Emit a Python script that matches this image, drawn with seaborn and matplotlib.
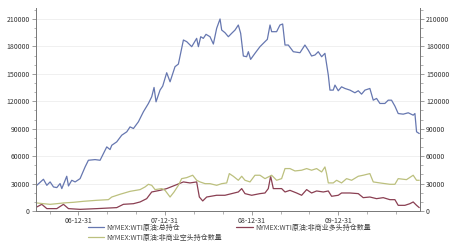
import numpy as np
import pandas as pd
import matplotlib
matplotlib.use("Agg")
import matplotlib.pyplot as plt
import seaborn as sns
from matplotlib.ticker import MultipleLocator

# ---- data (decimal years, contracts) ----
total_t = [2006.519, 2006.596, 2006.635, 2006.673, 2006.712, 2006.750, 2006.788, 2006.808,
           2006.865, 2006.885, 2006.923, 2006.962, 2007.019, 2007.077, 2007.115, 2007.192,
           2007.250, 2007.327, 2007.365, 2007.385, 2007.442, 2007.500, 2007.558, 2007.596,
           2007.635, 2007.692, 2007.750, 2007.808, 2007.846, 2007.873, 2007.896, 2007.942,
           2007.973, 2008.019, 2008.058, 2008.115, 2008.154, 2008.212, 2008.250, 2008.308,
           2008.365, 2008.385, 2008.412, 2008.442, 2008.473, 2008.519, 2008.558, 2008.596,
           2008.635, 2008.654, 2008.692, 2008.731, 2008.769, 2008.808, 2008.846, 2008.873,
           2008.904, 2008.942, 2008.962, 2008.988, 2009.038, 2009.096, 2009.154, 2009.181,
           2009.212, 2009.231, 2009.288, 2009.327, 2009.358, 2009.385, 2009.423, 2009.481,
           2009.558, 2009.615, 2009.654, 2009.692, 2009.731, 2009.769, 2009.808, 2009.846,
           2009.885, 2009.904, 2009.942, 2009.962, 2010.000, 2010.038, 2010.077, 2010.135,
           2010.192, 2010.231, 2010.269, 2010.308, 2010.365, 2010.404, 2010.442, 2010.481,
           2010.538, 2010.577, 2010.615, 2010.654, 2010.692, 2010.750, 2010.808, 2010.865,
           2010.885, 2010.904, 2010.935]
total_v = [28100, 34700, 28100, 31800, 26300, 25600, 30000, 24500,
           38000, 27400, 33600, 31800, 35400, 48200, 55500, 56200,
           55500, 70100, 67200, 71900, 75600, 82900, 86600, 92000,
           90200, 97500, 108500, 117600, 124900, 135100, 119400, 132200,
           136600, 151200, 141300, 157800, 160700, 187000, 185200, 179700,
           188800, 179700, 190600, 188800, 193200, 190600, 182600, 199800,
           210000, 197900, 195000, 190600, 194300, 197900, 203400, 194300,
           169500, 168700, 174200, 165800, 172400, 179700, 185200, 187700,
           203400, 196100, 196100, 203400, 204500, 181500, 181500, 174200,
           173100, 181500, 175900, 169500, 170600, 174200, 168700, 172400,
           148600, 132200, 132200, 137700, 131500, 135800, 134000, 132200,
           129300, 131500, 127800, 132200, 134000, 121200, 123100, 117600,
           117600, 121200, 121200, 114700, 106600, 105900, 107400, 104800,
           106600, 86600, 84700]

long_t = [2006.519, 2006.577, 2006.635, 2006.750, 2006.827, 2006.885, 2007.019, 2007.212,
          2007.442, 2007.519, 2007.635, 2007.712, 2007.788, 2007.846, 2007.942, 2008.019,
          2008.115, 2008.212, 2008.288, 2008.365, 2008.396, 2008.435, 2008.481, 2008.596,
          2008.692, 2008.769, 2008.846, 2008.885, 2008.923, 2009.000, 2009.096, 2009.154,
          2009.192, 2009.219, 2009.250, 2009.346, 2009.385, 2009.442, 2009.519, 2009.577,
          2009.635, 2009.692, 2009.750, 2009.827, 2009.885, 2009.923, 2010.000, 2010.038,
          2010.135, 2010.231, 2010.288, 2010.365, 2010.442, 2010.519, 2010.596, 2010.654,
          2010.692, 2010.769, 2010.827, 2010.865, 2010.904, 2010.935]
long_v = [4400, 7300, 2600, 2600, 7300, 2600, 1800, 2600,
          3700, 7300, 8000, 9900, 13500, 20800, 22600, 24500,
          28100, 31800, 30700, 31800, 15300, 11000, 15300, 17200,
          17200, 19000, 20800, 24500, 19000, 17200, 19000, 19700,
          24500, 38000, 24500, 24500, 20800, 22600, 19700, 17200,
          23400, 19700, 21900, 20800, 21900, 16100, 17200, 19700,
          19700, 19000, 14600, 15300, 13500, 14600, 12400, 12400,
          6200, 6200, 8000, 9900, 6200, 3700]

short_t = [2006.519, 2006.596, 2006.673, 2006.750, 2006.827, 2006.942, 2007.058, 2007.212,
           2007.346, 2007.385, 2007.481, 2007.596, 2007.712, 2007.769, 2007.808, 2007.846,
           2007.885, 2007.962, 2008.000, 2008.058, 2008.104, 2008.154, 2008.192, 2008.250,
           2008.319, 2008.365, 2008.404, 2008.462, 2008.519, 2008.596, 2008.654, 2008.712,
           2008.742, 2008.788, 2008.846, 2008.885, 2008.923, 2008.981, 2009.038, 2009.096,
           2009.154, 2009.231, 2009.288, 2009.346, 2009.385, 2009.442, 2009.500, 2009.577,
           2009.635, 2009.692, 2009.750, 2009.808, 2009.846, 2009.865, 2009.885, 2009.942,
           2009.981, 2010.038, 2010.096, 2010.154, 2010.231, 2010.288, 2010.365, 2010.404,
           2010.481, 2010.596, 2010.654, 2010.692, 2010.788, 2010.865, 2010.904, 2010.935]
short_v = [8800, 8000, 7300, 8000, 8800, 9500, 10600, 11700,
           12400, 15300, 18300, 21500, 23400, 26300, 29200, 28100,
           23400, 24500, 22600, 15300, 20800, 28100, 35400, 36500,
           39100, 33600, 31800, 29900, 29900, 28100, 29900, 30700,
           40900, 38000, 33600, 38000, 33600, 31800, 39100, 39100,
           35400, 39100, 33600, 35400, 46400, 46400, 43800, 44600,
           46400, 44600, 46400, 42700, 48200, 40900, 30700, 30700,
           33600, 30700, 35400, 33600, 38000, 39100, 40900, 31800,
           30700, 29200, 29200, 35400, 34300, 39100, 33600, 33600]

labels = ["NYMEX:WTI原油:总持仓",
          "NYMEX:WTI原油:非商业多头持仓数量",
          "NYMEX:WTI原油:非商业空头持仓数量"]
xtick_pos = [2007.0, 2008.0, 2009.0, 2010.0]
xtick_labels = ["06-12-31", "07-12-31", "08-12-31", "09-12-31"]
yticks = [0, 30000, 60000, 90000, 120000, 150000, 180000, 210000]

colors = ["#6677b0", "#8a3f52", "#bcc07e"]

sns.set_style("white")
plt.rcParams['font.family'] = ['Noto Sans CJK SC', 'DejaVu Sans']

fig = plt.figure(figsize=(4.5, 2.5), dpi=100)
ax = fig.add_axes([0.08, 0.156, 0.853, 0.812])

frames = [pd.DataFrame({"t": total_t, "v": total_v}),
          pd.DataFrame({"t": long_t, "v": long_v}),
          pd.DataFrame({"t": short_t, "v": short_v})]
for df, c, lab in zip(frames, colors, labels):
    sns.lineplot(data=df, x="t", y="v", ax=ax, color=c, lw=0.9, label=lab)

ax.set_xlim(2006.51, 2010.942)
ax.set_ylim(0, 222000)
ax.set_yticks(yticks)
ax.set_yticklabels([str(v) for v in yticks])
ax.yaxis.set_minor_locator(MultipleLocator(10000))
ax.set_xticks(xtick_pos)
ax.set_xticklabels(xtick_labels)
ax.xaxis.set_minor_locator(MultipleLocator(1/3))
ax.set_xlabel("")
ax.set_ylabel("")
ax.grid(axis="y", color="#eeeeee", lw=0.6)
ax.spines["top"].set_visible(False)
for s in ["left", "right", "bottom"]:
    ax.spines[s].set_color("#777777")
    ax.spines[s].set_linewidth(0.7)
ax.tick_params(axis="both", which="major", labelsize=5, length=3, width=0.5,
               color="#777777", pad=1.5, labelcolor="#333333", direction="out")
ax.tick_params(axis="both", which="minor", length=1.8, width=0.4, color="#777777",
               direction="out")
ax.tick_params(axis="y", which="both", left=True)
ax.tick_params(axis="x", which="both", bottom=True)

ax2 = ax.twinx()
ax2.set_ylim(ax.get_ylim())
ax2.set_yticks(yticks)
ax2.set_yticklabels([str(v) for v in yticks])
ax2.yaxis.set_minor_locator(MultipleLocator(10000))
ax2.tick_params(axis="y", which="major", labelsize=5, length=3, width=0.5,
                color="#777777", pad=1.5, labelcolor="#333333", right=True)
ax2.tick_params(axis="y", which="minor", length=1.8, width=0.4, color="#777777", right=True)
for s in ["top", "left", "bottom"]:
    ax2.spines[s].set_visible(False)
ax2.spines["right"].set_color("#777777")
ax2.spines["right"].set_linewidth(0.7)

ax.get_legend().remove()
h, l = ax.get_legend_handles_labels()
order = [0, 2, 1]
leg = fig.legend([h[i] for i in order], [l[i] for i in order], ncol=2,
                 loc="upper left", bbox_to_anchor=(0.195, 0.105), frameon=False,
                 fontsize=5, handlelength=2.4, handletextpad=0.3, columnspacing=2.0,
                 labelspacing=0.3, borderaxespad=0, borderpad=0)
for t in leg.get_texts():
    t.set_color("#444444")

fig.savefig("out.png", dpi=100)
